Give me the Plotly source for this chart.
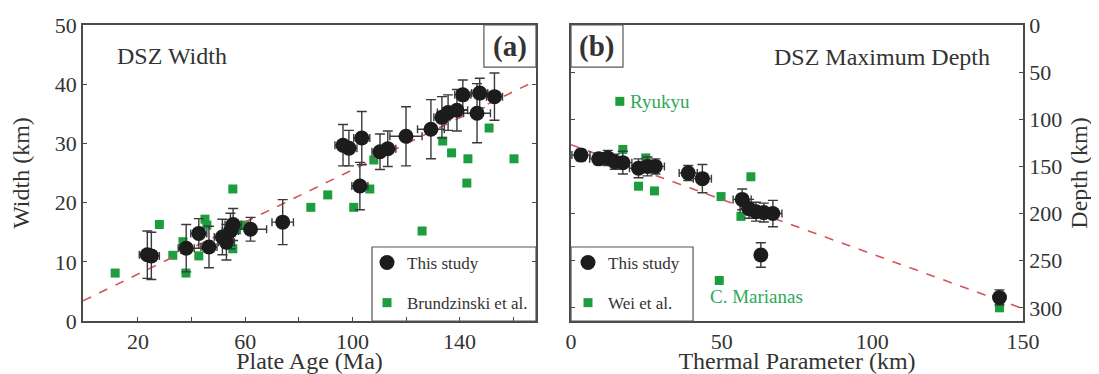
import plotly.graph_objects as go

# ---------------- Panel (a): DSZ width vs plate age ----------------
a_study_age = [23.5, 25.0, 38.0, 42.7, 46.5, 51.5, 53.0, 54.5, 55.5, 62.0, 74.0,
               96.5, 98.7, 103.5, 102.8, 110.3, 113.2, 120.0, 129.3, 133.4, 135.7,
               139.0, 141.2, 147.5, 146.5, 153.0]
a_study_width = [11.2, 11.0, 12.3, 14.8, 12.5, 14.2, 13.3, 15.2, 16.3, 15.5, 16.7,
                 29.7, 29.2, 30.9, 22.8, 28.6, 29.1, 31.2, 32.4, 34.4, 35.2,
                 35.6, 38.2, 38.5, 35.1, 37.9]
a_study_age_err = [3, 3, 3, 3, 3, 3, 3, 3, 3, 6, 4,
                   3, 3, 3, 3, 3, 3, 6, 5, 3, 4,
                   4, 3, 3, 5, 3]
a_study_width_err = [4, 4, 4, 2.5, 3.5, 3, 3, 3, 2.7, 2, 3.8,
                     3.5, 3, 4.5, 4, 3, 3, 5, 5, 3.5, 3,
                     3.5, 2.5, 2.5, 5, 4]

a_brud_age = [11.5, 28.0, 33.0, 37.9, 36.8, 42.7, 45.0, 45.7, 55.4, 55.4, 56.8,
              59.9, 84.5, 90.8, 100.5, 106.5, 108.0, 126.0, 133.7, 137.0, 142.7,
              143.1, 151.0, 160.3]
a_brud_width = [8.1, 16.3, 11.1, 8.1, 13.4, 11.0, 17.2, 16.2, 22.3, 12.2, 15.4,
                16.2, 19.2, 21.3, 19.2, 22.3, 27.2, 15.2, 30.4, 28.4, 23.3,
                27.4, 32.6, 27.4]

a_fit_age = [-0.5, 168.5]
a_fit_width = [3.4, 40.6]

# ---------------- Panel (b): DSZ max depth vs thermal parameter ----------------
b_study_phi = [3.3, 9.2, 12.2, 14.5, 17.2, 22.4, 25.4, 28.0, 38.9, 43.6,
               56.8, 59.1, 61.4, 64.0, 67.0, 63.0, 142.2]
b_study_depth = [138, 142, 141, 145, 146, 152, 150, 150, 157, 163,
                 185, 195, 198, 199, 200, 244, 289]
b_study_phi_err = [3, 3, 3, 3, 3, 3, 3, 3, 3, 3,
                   3, 3, 3, 3, 3, 0, 0]
b_study_depth_err = [6, 6, 8, 8, 12, 10, 10, 8, 8, 15,
                     11, 10, 10, 10, 14, 13, 8]

b_wei_phi = [16.2, 17.2, 22.4, 24.8, 27.7, 49.8, 56.4, 59.7, 49.2, 142.2]
b_wei_depth = [81, 132, 171, 141, 176, 182, 203, 161, 271, 300]

b_fit_phi = [0, 150]
b_fit_depth = [127, 301]

b_label_text = ["Ryukyu", "C. Marianas"]
b_label_phi = [19.0, 61.6]
b_label_depth = [81, 288]
b_label_anchor = ["left", "center"]

# ---------------- styling ----------------
FONT = "Liberation Serif"
TXT = "#333333"
AX = "#4a4a4a"
BLACK = "#1c1c1c"
GREEN = "#1d9e3e"
GREEN_TXT = "#2ea85a"
RED = "#d4555a"

# the page body adds an 8px margin; size the figure to fit the window
OFF = 8
W, H = 1099 - OFF, 374 - OFF


def fx(p):
    return (p - OFF) / W


def fy(p):
    return 1 - (p - OFF) / H


fig = go.Figure()

# panel (a)
fig.add_trace(go.Scatter(x=a_brud_age, y=a_brud_width, mode="markers",
                         marker=dict(symbol="square", size=9, color=GREEN),
                         name="Brundzinski et al.", legendgroup="a2", legend="legend",
                         xaxis="x", yaxis="y", legendrank=2))
fig.add_trace(go.Scatter(x=a_fit_age, y=a_fit_width, mode="lines",
                         line=dict(color=RED, dash="dash", width=1.6),
                         showlegend=False, xaxis="x", yaxis="y"))
fig.add_trace(go.Scatter(x=a_study_age, y=a_study_width, mode="markers",
                         marker=dict(symbol="circle", size=15, color=BLACK),
                         error_x=dict(type="data", array=a_study_age_err, color="#3a3a3a",
                                      thickness=1.4, width=4),
                         error_y=dict(type="data", array=a_study_width_err, color="#3a3a3a",
                                      thickness=1.4, width=5),
                         name="This study", legendgroup="a1", legend="legend",
                         xaxis="x", yaxis="y", legendrank=1))

# panel (b)
fig.add_trace(go.Scatter(x=b_wei_phi, y=b_wei_depth, mode="markers",
                         marker=dict(symbol="square", size=9, color=GREEN),
                         name="Wei et al.", legendgroup="b2", legend="legend2",
                         xaxis="x2", yaxis="y2", legendrank=2))
fig.add_trace(go.Scatter(x=b_fit_phi, y=b_fit_depth, mode="lines",
                         line=dict(color=RED, dash="dash", width=1.6),
                         showlegend=False, xaxis="x2", yaxis="y2"))
fig.add_trace(go.Scatter(x=b_study_phi, y=b_study_depth, mode="markers",
                         marker=dict(symbol="circle", size=15, color=BLACK),
                         error_x=dict(type="data", array=b_study_phi_err, color="#3a3a3a",
                                      thickness=1.4, width=4),
                         error_y=dict(type="data", array=b_study_depth_err, color="#3a3a3a",
                                      thickness=1.4, width=5),
                         name="This study", legendgroup="b1", legend="legend2",
                         xaxis="x2", yaxis="y2", legendrank=1))

ydom = [fy(321), fy(25)]
axis_common = dict(showgrid=False, zeroline=False, showline=True, linecolor=AX,
                   linewidth=1.5, ticklen=4, tickwidth=1.3, tickcolor=AX, automargin=False,
                   tickfont=dict(family=FONT, size=22, color=TXT))
title_font = dict(family=FONT, size=24, color=TXT)

fig.update_layout(
    template="none",
    width=W, height=H,
    margin=dict(l=0, r=0, t=0, b=0, pad=0),
    paper_bgcolor="white", plot_bgcolor="white",
    font=dict(family=FONT, color=TXT),
    xaxis=dict(domain=[fx(83), fx(536)], range=[-0.5, 168.5], anchor="y",
               tickvals=[20, 40, 60, 80, 100, 120, 140, 160],
               ticktext=["20", "", "60", "", "100", "", "140", ""],
               ticks="inside", mirror=True,
               title=dict(text="Plate Age (Ma)", font=title_font, standoff=0),
               **axis_common),
    yaxis=dict(domain=ydom, range=[0, 50], anchor="x", dtick=10,
               ticks="inside", mirror="ticks",
               title=dict(text="Width (km)", font=title_font, standoff=18),
               **axis_common),
    xaxis2=dict(domain=[fx(571), fx(1023)], range=[0, 150], anchor="y2",
                tickvals=[0, 50, 100, 150], ticks="", mirror=True,
                title=dict(text="Thermal Parameter (km)", font=title_font, standoff=0),
                **axis_common),
    xaxis3=dict(overlaying="x2", anchor="y2", side="top", range=[0, 150],
                tickvals=[25, 50, 75, 100, 125], ticks="inside", ticklen=4, tickwidth=1.3,
                tickcolor=AX, showticklabels=False, showline=False, showgrid=False,
                zeroline=False, automargin=False),
    yaxis2=dict(domain=ydom, range=[314, 0], anchor="x2", side="right",
                tickvals=[0, 50, 100, 150, 200, 250, 300],
                ticks="inside", mirror="ticks",
                title=dict(text="Depth (km)", font=title_font, standoff=9),
                **axis_common),
    legend=dict(x=fx(367), y=fy(245), xanchor="left", yanchor="top",
                bgcolor="rgba(0,0,0,0)", borderwidth=0, tracegroupgap=15,
                font=dict(family=FONT, size=17, color=TXT)),
    legend2=dict(x=fx(568), y=fy(245), xanchor="left", yanchor="top",
                 bgcolor="rgba(0,0,0,0)", borderwidth=0, tracegroupgap=15,
                 font=dict(family=FONT, size=17, color=TXT)),
)

# boxes: legends and panel labels
box = dict(type="rect", line=dict(color="#555555", width=1.2), fillcolor="rgba(0,0,0,0)",
           layer="above")
fig.add_shape(xref="x domain", yref="y domain", x0=0.638, x1=1, y0=0, y1=0.25, **box)
fig.add_shape(xref="x2 domain", yref="y2 domain", x0=0, x1=0.27, y0=0, y1=0.25, **box)
fig.add_shape(xref="x domain", yref="y domain", x0=0.885, x1=1, y0=0.858, y1=1, **box)
fig.add_shape(xref="x2 domain", yref="y2 domain", x0=0, x1=0.115, y0=0.858, y1=1, **box)

fig.add_annotation(xref="x domain", yref="y domain", x=0.9425, y=0.929, text="<b>(a)</b>",
                   xanchor="center", yanchor="middle",
                   showarrow=False, font=dict(family=FONT, size=29, color=TXT))
fig.add_annotation(xref="x2 domain", yref="y2 domain", x=0.0575, y=0.929, text="<b>(b)</b>",
                   xanchor="center", yanchor="middle",
                   showarrow=False, font=dict(family=FONT, size=29, color=TXT))
fig.add_annotation(xref="x domain", yref="y domain", x=0.07, y=0.896, text="DSZ Width",
                   xanchor="left", yanchor="middle", showarrow=False,
                   font=dict(family=FONT, size=24, color=TXT))
fig.add_annotation(xref="x2 domain", yref="y2 domain", x=0.932, y=0.892, text="DSZ Maximum Depth",
                   xanchor="right", yanchor="middle", showarrow=False,
                   font=dict(family=FONT, size=24, color=TXT))

for t, px, py, anc in zip(b_label_text, b_label_phi, b_label_depth, b_label_anchor):
    fig.add_annotation(xref="x2", yref="y2", x=px, y=py, text=t, xanchor=anc, yanchor="middle",
                       showarrow=False, font=dict(family=FONT, size=19, color=GREEN_TXT))

fig.write_html("out.html")
